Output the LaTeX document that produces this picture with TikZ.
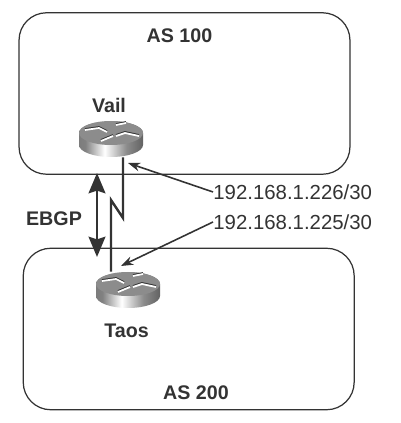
\documentclass[tikz,border=0pt]{standalone}
\usepackage{xcolor}
\usepackage{fontspec}
\setmainfont{Liberation Sans}
\usepackage{tikz}
\usetikzlibrary{arrows.meta, calc}
\definecolor{ink}{HTML}{333333}
\definecolor{routertop}{HTML}{8C8C8C}
\definecolor{routerside}{HTML}{626262}
\pgfdeclarehorizontalshading{routerbody}{100bp}{
  color(0bp)=(routerside); color(30bp)=(routerside!80!white); color(45bp)=(white);
  color(62bp)=(routertop); color(75bp)=(routerside); color(100bp)=(routerside)}
\tikzset{
  as box/.style={
    draw=ink, line width=0.7pt, rounded corners=0.55cm,
    minimum width=6.62cm, minimum height=3.23cm, inner sep=0pt
  },
  router/.style={minimum width=1.28cm, minimum height=0.72cm, inner sep=0pt},
  name label/.style={font=\fontsize{11.2}{13}\selectfont\bfseries, text=ink, inner sep=0pt},
  ip label/.style={font=\fontsize{11.6}{13}\selectfont, text=ink, inner sep=0pt, anchor=west},
  link/.style={draw=ink, line width=1.4pt, line join=miter},
  peer arrow/.style={{Stealth[length=11.5pt,width=9.5pt,inset=1.5pt]}-{Stealth[length=11.5pt,width=9.5pt,inset=1.5pt]}, draw=ink, line width=1.7pt},
  ip arrow/.style={-{Stealth[length=7pt,width=5pt]}, draw=ink, line width=0.9pt},
  router icon/.pic={
    % body
    \shade[shading=routerbody]
      (-32,6) -- (-32,-6) arc[start angle=180, end angle=360, x radius=32, y radius=12]
      -- (32,6) arc[start angle=0, end angle=180, x radius=32, y radius=12] -- cycle;
    % top
    \fill[routertop] (0,6) ellipse[x radius=32, y radius=12];
    % marks
    \draw[ink, line width=1pt] (-26,10) -- (-12,12) -- (-4,8) (5,15) -- (15,17)
      (5,4) -- (14,7) -- (28,4) (-10,-1) -- (2,4);
    \draw[white, line width=1pt] (-26,9) -- (-12,11) -- (-4,7) (5,14) -- (15,16)
      (5,3) -- (14,6) -- (28,3) (-10,-2) -- (2,3);
  }
}
\begin{document}
\begin{tikzpicture}[x=0.02cm, y=0.02cm]
  \useasboundingbox (0,0) rectangle (400,423);

  % AS boxes
  \node[as box] (as100) at (184.5,329.5) {};
  \node[as box] (as200) at (188.7,94) {};
  \node[name label] (as100label) at (179.5,387) {AS 100};
  \node[name label] (as200label) at (196,30) {AS 200};

  % Routers
  \pic at (111,284) {router icon};
  \pic at (128,133) {router icon};
  \node[router] (vail) at (111,284) {};
  \node[router] (taos) at (128,133) {};
  \node[name label] (vaillabel) at (109,318) {Vail};
  \node[name label] (taoslabel) at (126.5,92) {Taos};

  % Serial link
  \coordinate (kinkright) at (123,205);
  \coordinate (kinkleft) at (111,223);
  \draw[link] (vail.south -| kinkright) -- (kinkright) -- (kinkleft) -- (kinkleft |- taos.north);

  % EBGP session
  \coordinate (ebgptop) at (97,250);
  \coordinate (ebgpbottom) at (97,166);
  \draw[peer arrow] (ebgptop) -- (ebgpbottom);
  \node[name label] (ebgplabel) at (54,204) {EBGP};

  % Addresses
  \node[ip label] (ipvail) at (213,231) {192.168.1.226/30};
  \node[ip label] (iptaos) at (213,201) {192.168.1.225/30};
  \coordinate (vailtip) at (128,260);
  \coordinate (taostip) at (121,157);
  \draw[ip arrow] (ipvail.west) -- (vailtip);
  \draw[ip arrow] (iptaos.west) -- (taostip);
\end{tikzpicture}
\end{document}
